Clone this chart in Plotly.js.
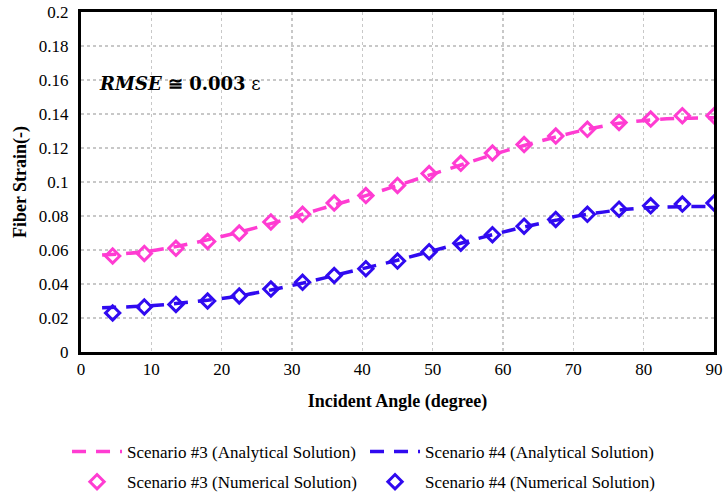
<!DOCTYPE html>
<html>
<head>
<meta charset="utf-8">
<script src="https://cdn.plot.ly/plotly-3.0.1.min.js"></script>
<style>html,body{margin:0;padding:0;background:#fff;}#chart{width:723px;height:494px;}</style>
</head>
<body>
<div id="chart"></div>
<script>
// Numerical solution sample angles (degree)
const numAngles = [4.5, 9, 13.5, 18, 22.5, 27, 31.5, 36, 40.5, 45, 49.5, 54, 58.5, 63, 67.5, 72, 76.5, 81, 85.5, 90];
const s3Numerical = [0.0565, 0.058, 0.061, 0.065, 0.070, 0.0765, 0.081, 0.0876, 0.092, 0.098, 0.105, 0.111, 0.117, 0.122, 0.127, 0.131, 0.135, 0.137, 0.139, 0.139];
const s4Numerical = [0.023, 0.0265, 0.028, 0.030, 0.033, 0.037, 0.041, 0.045, 0.049, 0.0535, 0.059, 0.064, 0.069, 0.074, 0.078, 0.081, 0.084, 0.086, 0.087, 0.0876];

// Analytical solution curve angles (degree)
const anaAngles = [3, 9, 13.5, 18, 22.5, 27, 31.5, 36, 40.5, 45, 49.5, 54, 58.5, 63, 67.5, 72, 76.5, 81, 85.5, 90];
const s3Analytical = [0.057, 0.059, 0.062, 0.066, 0.0705, 0.0755, 0.081, 0.0865, 0.092, 0.098, 0.104, 0.110, 0.116, 0.1215, 0.1265, 0.131, 0.1345, 0.1365, 0.1375, 0.1378];
const s4Analytical = [0.026, 0.027, 0.0285, 0.0305, 0.033, 0.0365, 0.0405, 0.045, 0.0495, 0.054, 0.059, 0.064, 0.069, 0.0735, 0.0775, 0.081, 0.0835, 0.085, 0.0855, 0.0855];

const seriesNames = ["Scenario #3 (Analytical Solution)", "Scenario #4 (Analytical Solution)", "Scenario #3 (Numerical Solution)", "Scenario #4 (Numerical Solution)"];

const pink = "rgb(255,60,210)";
const blue = "rgb(48,10,240)";
const serif = "Liberation Serif";

const traces = [
  {x: anaAngles, y: s3Analytical, name: seriesNames[0], legend: "legend", mode: "lines", line: {color: pink, width: 3.5, dash: "14px,10px", shape: "spline"}},
  {x: anaAngles, y: s4Analytical, name: seriesNames[1], legend: "legend", mode: "lines", line: {color: blue, width: 3.5, dash: "14px,10px", shape: "spline"}},
  {x: numAngles, y: s3Numerical, name: seriesNames[2], legend: "legend2", mode: "markers", marker: {symbol: "diamond-open", size: 11, color: pink, line: {color: pink, width: 3}}},
  {x: numAngles, y: s4Numerical, name: seriesNames[3], legend: "legend2", mode: "markers", marker: {symbol: "diamond-open", size: 11, color: blue, line: {color: blue, width: 3}}}
];

const legendCommon = {
  orientation: "h", xref: "container", yref: "container", xanchor: "left", yanchor: "middle",
  entrywidth: 233, entrywidthmode: "pixels", itemwidth: 50,
  font: {family: serif, size: 17, color: "#000"}, bgcolor: "rgba(0,0,0,0)"
};

const layout = {
  width: 723, height: 494,
  margin: {l: 81, r: 9, t: 12, b: 142},
  paper_bgcolor: "#fff", plot_bgcolor: "#fff",
  font: {family: serif, size: 17, color: "#000"},
  xaxis: {
    range: [0, 90], dtick: 10, tick0: 0,
    showgrid: true, gridcolor: "#c8c8c8", griddash: "dot", gridwidth: 1.5,
    zeroline: false, showline: true, linecolor: "#000", linewidth: 3, mirror: true,
    ticks: "", tickfont: {family: serif, size: 17},
    title: {text: "<b>Incident Angle (degree)</b>", font: {family: serif, size: 18}, standoff: 16}
  },
  yaxis: {
    range: [0, 0.2], dtick: 0.02, tick0: 0,
    showgrid: true, gridcolor: "#c8c8c8", griddash: "dot", gridwidth: 1.5,
    zeroline: false, showline: true, linecolor: "#000", linewidth: 3, mirror: true,
    ticks: "", tickfont: {family: serif, size: 17}, ticklabelstandoff: 6,
    title: {text: "<b>Fiber Strain(-)</b>", font: {family: serif, size: 18}, standoff: 8}
  },
  legend: Object.assign({x: 0.0927, y: 0.085}, legendCommon),
  legend2: Object.assign({x: 0.0927, y: 0.024}, legendCommon),
  annotations: [{
    xref: "paper", yref: "paper", x: 0.025, y: 0.79, xanchor: "left", yanchor: "middle",
    showarrow: false,
    text: "<b><i>RMSE</i> ≅ 0.003</b> ε",
    font: {family: "DejaVu Serif", size: 18, color: "#000"}
  }],
  showlegend: true
};

Plotly.newPlot("chart", traces, layout, {displayModeBar: false, staticPlot: true});
</script>
</body>
</html>
